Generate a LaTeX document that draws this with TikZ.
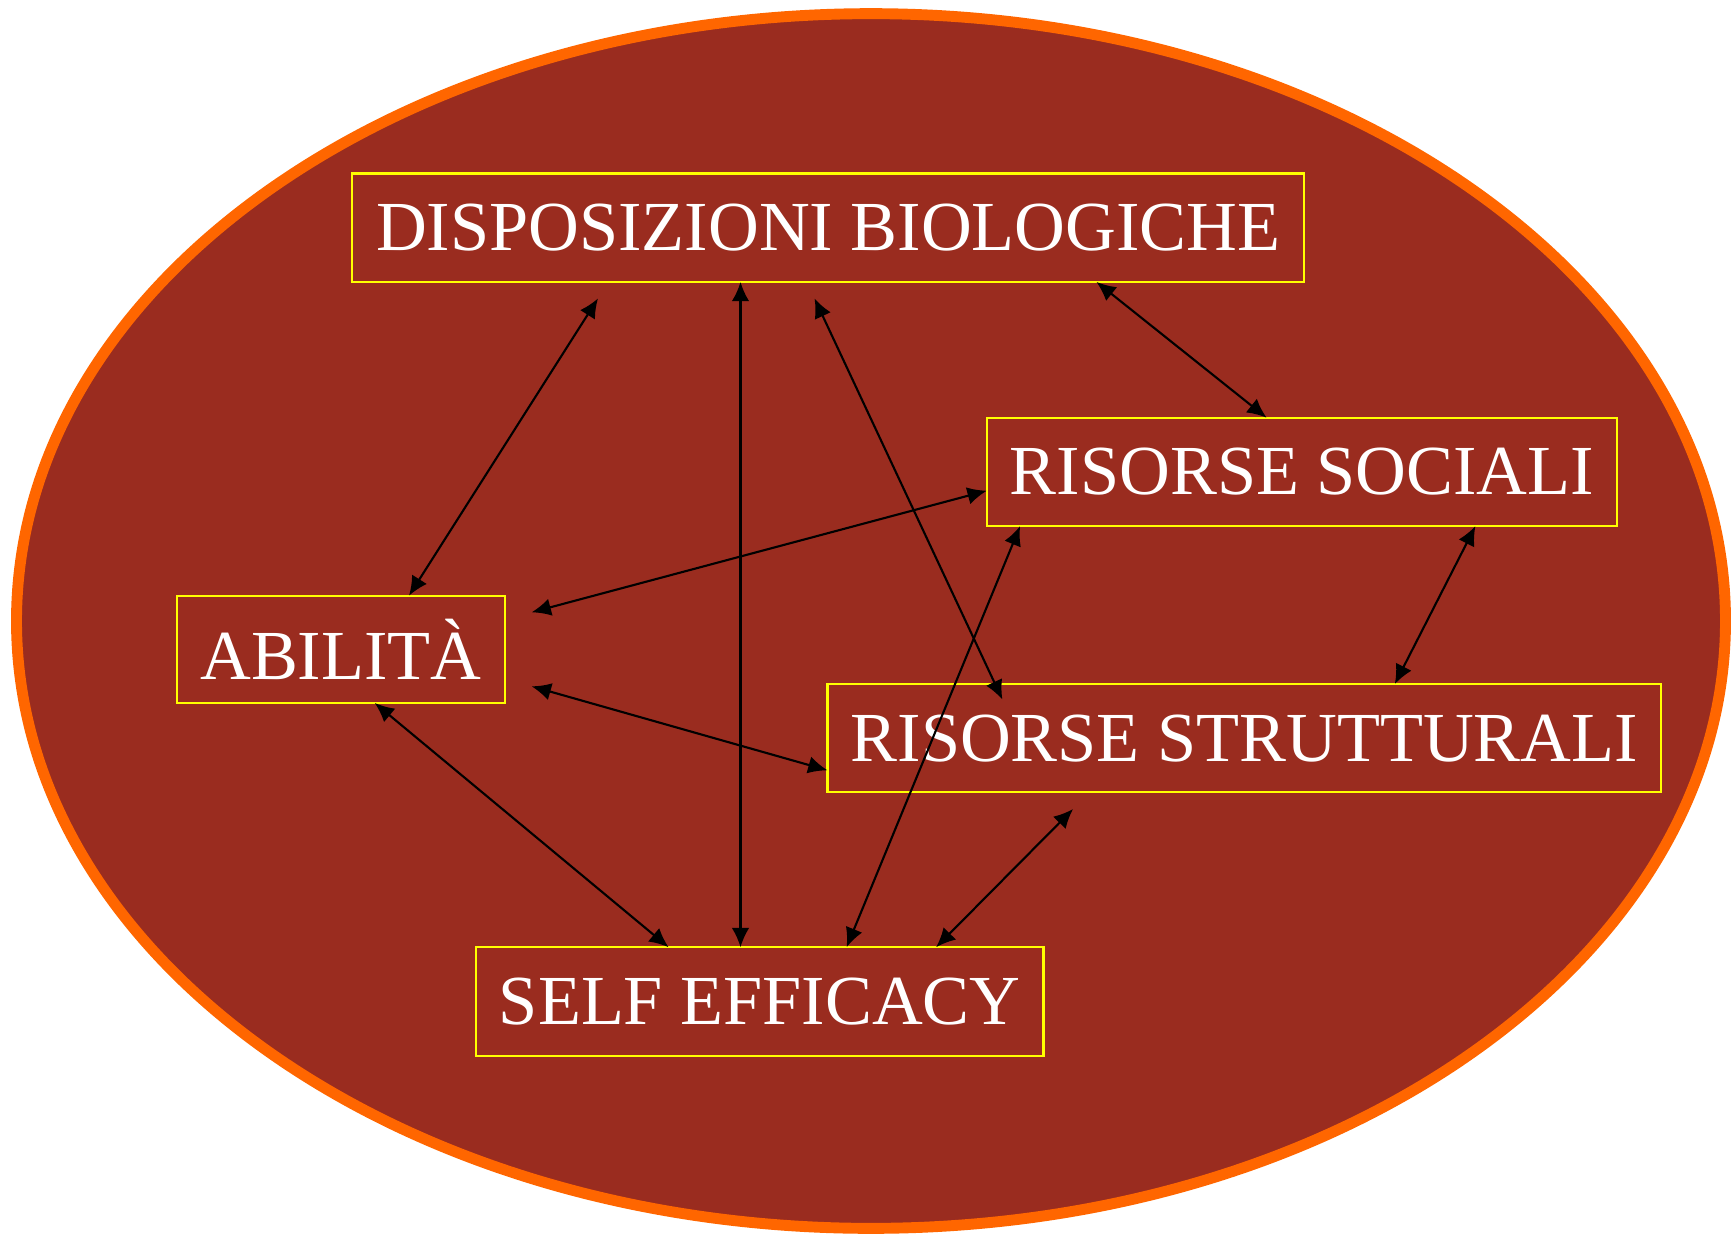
\documentclass[tikz,border=0pt]{standalone}
\usepackage{fontspec}
\setmainfont{Liberation Serif}
\usetikzlibrary{arrows.meta}

\definecolor{rust}{RGB}{154,44,31}
\definecolor{rim}{RGB}{255,102,0}
\definecolor{boxline}{RGB}{255,255,0}

\tikzset{
  box/.style={draw=boxline, line width=0.6pt, text=white, inner sep=0pt, outer sep=0pt,
    minimum height=1.083cm, font=\fontsize{20}{24}\selectfont},
  link/.style={black, line width=0.6pt, {Latex[length=5.5pt,width=5pt]}-{Latex[length=5.5pt,width=5pt]}}
}

\begin{document}
\begin{tikzpicture}[x=0.01cm,y=-0.01cm]
\useasboundingbox (0,0) rectangle (1733,1236);

% background
\draw[fill=rust, draw=rim, line width=3.1pt] (871,621) ellipse [x radius=8.54cm, y radius=6.07cm];

% boxes
\node[box, minimum width=9.515cm] (disp) at (828.4,227.7) {DISPOSIZIONI BIOLOGICHE};
\node[box, minimum width=6.30cm] (soc) at (1302,471.9) {RISORSE SOCIALI};
\node[box, minimum width=3.282cm, minimum height=1.072cm] (abil) at (340.9,649.3) {ABILITÀ};
\node[box, minimum width=8.333cm] (strut) at (1244.4,738.2) {RISORSE STRUTTURALI};
\node[box, minimum width=5.67cm] (self) at (759.8,1001.4) {SELF EFFICACY};

% free ends
\coordinate (dA) at (598,298.4);
\coordinate (dB) at (814.5,298.4);
\coordinate (aR1) at (531.6,612.3);
\coordinate (aR2) at (531.6,686.3);
\coordinate (sT) at (1002.4,699.6);
\coordinate (sB) at (1073.1,809);

% links
\draw[link] (abil.north -| 409,0) -- (dA);
\draw[link] (disp.south -| 740.5,0) -- (self.north -| 740.5,0);
\draw[link] (dB) -- (sT);
\draw[link] (disp.south -| 1096.4,0) -- (soc.north -| 1266.6,0);
\draw[link] (aR1) -- (soc.west |- 0,490.7);
\draw[link] (soc.south -| 1475.4,0) -- (strut.north -| 1394.8,0);
\draw[link] (aR2) -- (strut.west |- 0,770.3);
\draw[link] (abil.south -| 374.7,0) -- (self.north -| 668.6,0);
\draw[link] (soc.south -| 1020.1,0) -- (self.north -| 846.6,0);
\draw[link] (sB) -- (self.north -| 936.1,0);

\end{tikzpicture}
\end{document}
